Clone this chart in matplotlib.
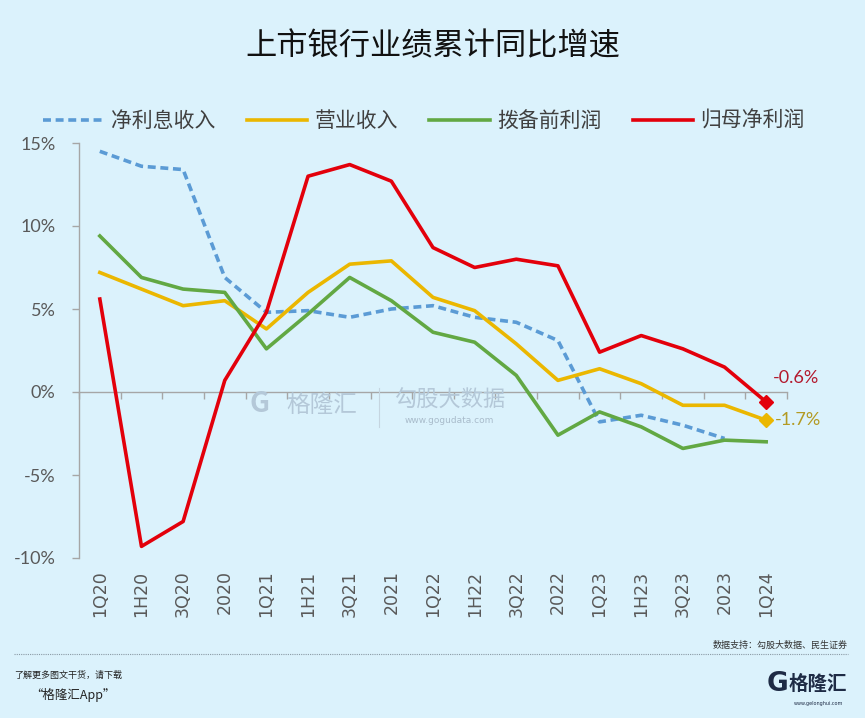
import numpy as np
import matplotlib
matplotlib.use('Agg')
import matplotlib.pyplot as plt
from matplotlib.lines import Line2D

plt.rcParams['font.family'] = ['Noto Sans CJK SC', 'DejaVu Sans']

# --- data (%) ---
quarters = ['1Q20', '1H20', '3Q20', '2020', '1Q21', '1H21', '3Q21', '2021',
            '1Q22', '1H22', '3Q22', '2022', '1Q23', '1H23', '3Q23', '2023', '1Q24']
net_interest = [14.5, 13.6, 13.4, 6.9, 4.8, 4.9, 4.5, 5.0,
                5.2, 4.5, 4.2, 3.1, -1.8, -1.4, -2.0, -2.8, np.nan]
revenue = [7.2, 6.2, 5.2, 5.5, 3.8, 6.0, 7.7, 7.9,
           5.7, 4.9, 2.9, 0.7, 1.4, 0.5, -0.8, -0.8, -1.7]
pre_provision = [9.4, 6.9, 6.2, 6.0, 2.6, 4.7, 6.9, 5.5,
                 3.6, 3.0, 1.0, -2.6, -1.2, -2.1, -3.4, -2.9, -3.0]
net_profit = [5.6, -9.3, -7.8, 0.7, 4.8, 13.0, 13.7, 12.7,
              8.7, 7.5, 8.0, 7.6, 2.4, 3.4, 2.6, 1.5, -0.6]
series_names = ['净利息收入', '营业收入', '拨备前利润', '归母净利润']

BG = '#DBF2FC'
BLUE, GOLD, GREEN, RED = '#5B9BD5', '#EBB700', '#62A843', '#E3000B'
GRAY = '#595959'
AXIS = '#A6A6A6'

fig = plt.figure(figsize=(8.65, 7.18), dpi=100, facecolor=BG)
ax = fig.add_axes([79 / 865, 1 - 558 / 718, 708 / 865, 415 / 718])
ax.set_facecolor(BG)

x = np.arange(len(quarters))
lw = 2.6
ax.plot(x, net_interest, color=BLUE, lw=lw, ls=(0, (2.2, 1.3)))
ax.plot(x, revenue, color=GOLD, lw=lw)
ax.plot(x, pre_provision, color=GREEN, lw=lw)
ax.plot(x, net_profit, color=RED, lw=lw)

# end markers and labels
ax.plot(x[-1], net_profit[-1], marker='D', ms=7, color=RED)
ax.plot(x[-1], revenue[-1], marker='D', ms=7, color=GOLD)
ax.annotate(f'{net_profit[-1]:.1f}%', xy=(x[-1], net_profit[-1]),
            xytext=(5, 17), textcoords='offset points', va='center', ha='left',
            fontsize=13, color='#B3192D', family=['Lato', 'DejaVu Sans'])
ax.annotate(f'{revenue[-1]:.1f}%', xy=(x[-1], revenue[-1]),
            xytext=(6, 0), textcoords='offset points', va='center', ha='left',
            fontsize=13, color='#B39A22', family=['Lato', 'DejaVu Sans'])

ax.set_xlim(-0.5, len(quarters) - 0.5)
ymin, ymax = -10, 15
ax.set_ylim(ymin, ymax)
ax.set_yticks(np.arange(ymin, ymax + 1, 5))
ax.set_yticklabels([f'{v}%' for v in range(ymin, ymax + 1, 5)],
                   fontsize=13, color=GRAY, family=['Lato', 'DejaVu Sans'])
ax.tick_params(axis='y', direction='out', length=5, width=1, color=AXIS, pad=12)

ax.set_xticks(x)
ax.set_xticklabels(quarters, rotation=90, fontsize=12.5, color=GRAY,
                   family=['DejaVu Sans'])
ax.tick_params(axis='x', length=0, pad=9)

for side in ['top', 'right', 'bottom']:
    ax.spines[side].set_visible(False)
ax.spines['left'].set_color(AXIS)
ax.spines['left'].set_linewidth(1)

# zero line with category boundary ticks
zero = ax.secondary_xaxis((0 - ymin) / (ymax - ymin))
zero.set_xticks(np.arange(-0.5, len(quarters), 1))
zero.tick_params(direction='out', length=5, width=1, color=AXIS, labelbottom=False,
                 labeltop=False)
for sp in zero.spines.values():
    sp.set_color(AXIS)
    sp.set_linewidth(1)

# watermark
fig.text(0.372, 0.435, '格隆汇', fontsize=17, color='#B4C8D8', ha='center', va='center',
         zorder=0)
fig.text(0.3, 0.437, 'G', fontsize=20, color='#B4C8D8', ha='center', va='center',
         weight='bold', zorder=0)
fig.text(0.52, 0.442, '勾股大数据', fontsize=16, color='#B4C8D8', ha='center', va='center',
         zorder=0)
fig.text(0.52, 0.415, 'www.gogudata.com', fontsize=6.5, color='#A9BCCB', ha='center',
         va='center', family=['DejaVu Sans'], zorder=0)
fig.add_artist(Line2D([0.438, 0.438], [0.405, 0.46], color='#C5D5E0', lw=0.8))

# legend
handles = [
    Line2D([], [], color=BLUE, lw=lw, ls=(0, (2.2, 1.3))),
    Line2D([], [], color=GOLD, lw=lw),
    Line2D([], [], color=GREEN, lw=lw),
    Line2D([], [], color=RED, lw=lw),
]
leg = fig.legend(handles, series_names, loc='center', ncol=4,
                 bbox_to_anchor=(424 / 865, 1 - 121 / 718), frameon=False,
                 fontsize=15, handlelength=2.9, handletextpad=0.35,
                 columnspacing=1.5)
for t in leg.get_texts():
    t.set_color('#404040')

# title
fig.text(433 / 865, 1 - 46 / 718, '上市银行业绩累计同比增速', fontsize=22.5, color='#111111',
         ha='center', va='center')

# footer
fig.text(848 / 865, 1 - 645 / 718, '数据支持：勾股大数据、民生证券', fontsize=6.5,
         color='#333333', ha='right', va='center')
fig.add_artist(Line2D([14 / 865, 848 / 865], [1 - 654 / 718] * 2, color='#8A9AA5',
                      lw=0.8, ls=(0, (1, 1))))
fig.text(14 / 865, 1 - 675 / 718, '了解更多图文干货，请下载', fontsize=6.5, color='#222222',
         ha='left', va='center', style='italic')
fig.text(30 / 865, 1 - 695 / 718, '“格隆汇App”', fontsize=9, color='#222222',
         ha='left', va='center', style='italic')
fig.text(778 / 865, 1 - 684 / 718, 'G', fontsize=19, color='#1E2B45', weight='bold',
         ha='center', va='center', family=['DejaVu Sans'])
fig.text(818 / 865, 1 - 684 / 718, '格隆汇', fontsize=14, color='#1E2B45', weight='bold',
         ha='center', va='center')
fig.text(818 / 865, 1 - 703 / 718, 'www.gelonghui.com', fontsize=3.5, color='#1E2B45',
         ha='center', va='center', family=['DejaVu Sans'])

fig.savefig('out.png', dpi=100, facecolor=BG)
